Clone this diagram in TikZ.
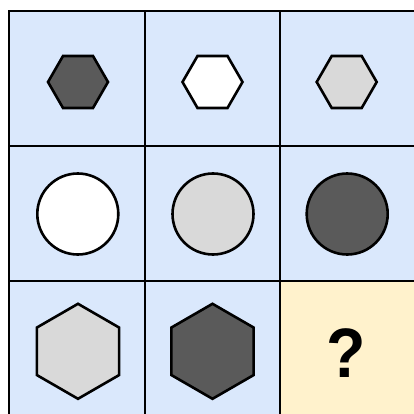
\documentclass[tikz,border=0pt]{standalone}
\usepackage{fontspec}
\setmainfont{Liberation Sans}
\usetikzlibrary{shapes.geometric}
\definecolor{cellblue}{HTML}{DAE8FC}
\definecolor{cellyellow}{HTML}{FFF2CC}
\definecolor{darkg}{HTML}{5A5A5A}
\definecolor{lightg}{HTML}{D9D9D9}
\begin{document}
\begin{tikzpicture}[x=1pt,y=-1pt,
  cellbox/.style={draw=black,line width=2pt},
  shp/.style={draw=black,line width=2.6pt,line join=miter},
]
\useasboundingbox (0,0) rectangle (413,414);
\fill[white] (0,0) rectangle (413,414);
% cells
\foreach \i in {0,1,2}{
  \foreach \j in {0,1,2}{
    \fill[cellblue] (9+135.5*\i,11+135*\j) rectangle ++(135.5,135);
  }
}
\fill[cellyellow] (280,281) rectangle (420,420);
\draw[cellbox] (9,420) -- (9,11) -- (420,11);
\draw[cellbox] (144.5,11) -- (144.5,420);
\draw[cellbox] (280,11) -- (280,420);
\draw[cellbox] (9,146) -- (420,146);
\draw[cellbox] (9,281) -- (420,281);
% row 1 small hexagons (flat top)
\path[shp,fill=darkg] (78,82) ++(0:30) -- ++(120:30) -- ++(180:30) -- ++(240:30) -- ++(300:30) -- ++(0:30) -- cycle;
\path[shp,fill=white] (212.5,82) ++(0:30) -- ++(120:30) -- ++(180:30) -- ++(240:30) -- ++(300:30) -- ++(0:30) -- cycle;
\path[shp,fill=lightg] (346.7,82) ++(0:30) -- ++(120:30) -- ++(180:30) -- ++(240:30) -- ++(300:30) -- ++(0:30) -- cycle;
% row 2 circles
\node[shp,fill=white,circle,minimum size=81pt,inner sep=0pt] (c1) at (77.8,214) {};
\node[shp,fill=lightg,circle,minimum size=81pt,inner sep=0pt] (c2) at (213,214) {};
\node[shp,fill=darkg,circle,minimum size=81pt,inner sep=0pt] (c3) at (347.2,214) {};
% row 3 large hexagons (pointy top)
\path[shp,fill=lightg] (78,351.3) ++(90:47.5) -- ++(210:47.5) -- ++(270:47.5) -- ++(330:47.5) -- ++(30:47.5) -- ++(90:47.5) -- cycle;
\path[shp,fill=darkg] (212.5,351.3) ++(90:47.5) -- ++(210:47.5) -- ++(270:47.5) -- ++(330:47.5) -- ++(30:47.5) -- ++(90:47.5) -- cycle;
\node[font=\fontsize{70}{70}\selectfont\bfseries,xscale=0.92] (q) at (346,353) {?};
\end{tikzpicture}
\end{document}
